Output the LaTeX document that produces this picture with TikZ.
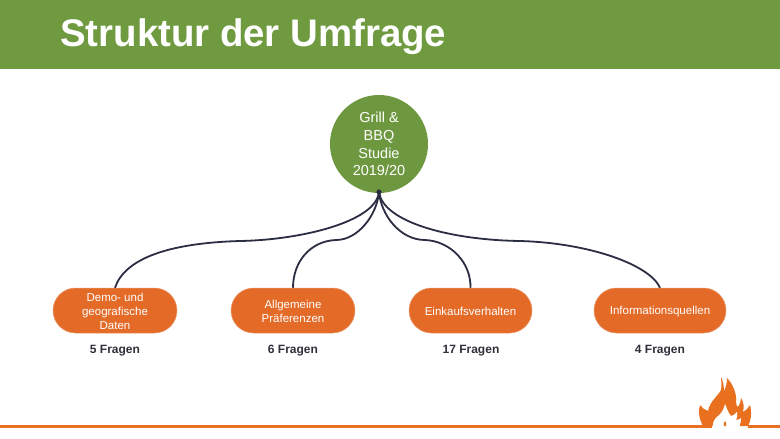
\documentclass[tikz,border=0pt]{standalone}
\usepackage{fontspec}
\setmainfont{Liberation Sans}
\definecolor{hdr}{HTML}{6F9A40}
\definecolor{circ}{HTML}{6E983F}
\definecolor{pill}{HTML}{E46A27}
\definecolor{wire}{HTML}{2B2D42}
\definecolor{lab}{HTML}{2F3038}
\definecolor{flame}{HTML}{E8701F}
\tikzset{
 pillbox/.style={draw=pill!70!white,line width=.5pt,fill=pill,rounded corners=22.5pt,minimum height=45pt,inner sep=0pt,text=white,font=\fontsize{11.5}{14}\selectfont,align=center},
 hub/.style={circle,fill=circ,minimum size=98pt,inner sep=0pt,text=white,font=\fontsize{14.5}{17.8}\selectfont,align=center},
 count/.style={text=lab,font=\fontsize{12}{13}\selectfont\bfseries},
 wirel/.style={draw=wire,line width=1.8pt}
}
\begin{document}
\begin{tikzpicture}[x=1pt,y=-1pt]
\useasboundingbox (0,0) rectangle (780,439);
\fill[white] (0,0) rectangle (780,439);
\fill[hdr] (0,0) rectangle (780,69);
\node[name=title,anchor=west,text=white,inner sep=0pt,font=\fontsize{38.4}{40}\selectfont\bfseries] at (60,37) {Struktur der Umfrage};
\node[hub] (hubn) at (379,144) {Grill \&\\BBQ\\Studie\\2019/20};
\coordinate (j) at (379,192);
\node[pillbox,minimum width=124pt] (a) at (115,310.5) {};
\node[pillbox,minimum width=124pt] (b) at (293,310.5) {};
\node[pillbox,minimum width=123pt] (c) at (470.5,310.5) {};
\node[pillbox,minimum width=132pt] (d) at (660,310.5) {};
\node[text=white,align=center,inner sep=0pt,font=\fontsize{11.5}{14}\selectfont] (ta) at (115,311.5) {Demo- und\\geografische\\Daten};
\node[text=white,align=center,inner sep=0pt,font=\fontsize{11.5}{14}\selectfont] (tb) at (293,311.5) {Allgemeine\\Präferenzen};
\node[text=white,align=center,inner sep=0pt,font=\fontsize{11.5}{14}\selectfont] (tc) at (470.5,311.5) {Einkaufsverhalten};
\node[text=white,align=center,inner sep=0pt,font=\fontsize{11.5}{14}\selectfont] (td) at (660,311.5) {Informationsquellen};
\node[count] (ca) at (115,350.5) {5 Fragen};
\node[count] (cb) at (293,350.5) {6 Fragen};
\node[count] (cc) at (471,350.5) {17 Fragen};
\node[count] (cd) at (660,350.5) {4 Fragen};
\draw[wirel] (j) .. controls (376,222) and (300,240) .. (240,241) .. controls (170,243) and (125,258) .. (a.north);
\draw[wirel] (j) .. controls (377,215) and (358,240) .. (336,240) .. controls (310,241) and (293,262) .. (b.north);
\draw[wirel] (j) .. controls (381,215) and (400,240) .. (425,240) .. controls (450,241) and (471,262) .. (c.north);
\draw[wirel] (j) .. controls (383,222) and (450,240) .. (520,241) .. controls (590,243) and (650,265) .. (d.north);
\fill[wire] (j) circle (2.6pt);
% bottom rule and flame
\fill[flame] (0,424.5) rectangle (712,428);
\fill[flame] (748,424.5) rectangle (780,428);
\fill[flame] (703,426) .. controls (699,419) and (698,411) .. (700,405)
 .. controls (702,408) and (705,410) .. (708,411)
 .. controls (710,401) and (718,396) .. (721,390)
 .. controls (722,385) and (721,381) .. (721,377)
 .. controls (723,381) and (724,386) .. (724,391)
 .. controls (726,387) and (727,383) .. (727,378)
 .. controls (733,384) and (737,394) .. (736,402)
 .. controls (736,405) and (737,407) .. (738,407)
 .. controls (740,404) and (741,401) .. (741,398)
 .. controls (744,402) and (744,408) .. (743,412)
 .. controls (746,411) and (748,408) .. (750,405)
 .. controls (752,413) and (751,421) .. (748,426) -- cycle;
\fill[white] (713,429) .. controls (712,423) and (714,419) .. (718,416)
 .. controls (721,414) and (724,409) .. (725,404)
 .. controls (727,408) and (728,413) .. (731,416)
 .. controls (733,416) and (735,414) .. (737,412)
 .. controls (738,415) and (737,418) .. (736,420)
 .. controls (738,420) and (740,419) .. (741,418)
 .. controls (741,422) and (740,426) .. (738,429) -- cycle;
\fill[flame] (724,426) .. controls (723,424) and (724,422) .. (725,421) .. controls (726,422) and (727,424) .. (726,426) -- cycle;
\end{tikzpicture}
\end{document}
